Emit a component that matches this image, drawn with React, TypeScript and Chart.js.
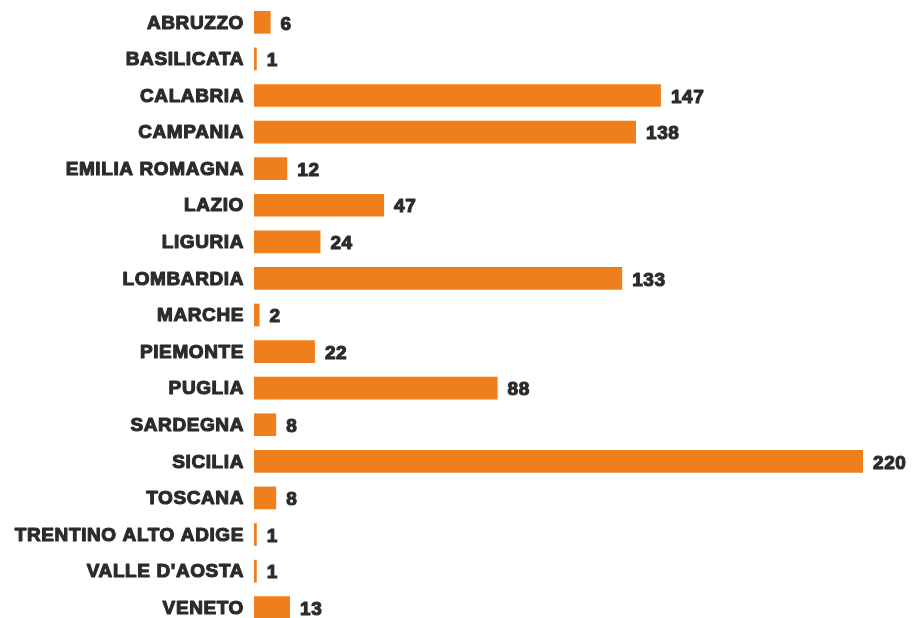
import React, { useEffect, useRef } from "react";
import { Chart, registerables } from "chart.js";

Chart.register(...registerables);

const categories = [
  "ABRUZZO",
  "BASILICATA",
  "CALABRIA",
  "CAMPANIA",
  "EMILIA ROMAGNA",
  "LAZIO",
  "LIGURIA",
  "LOMBARDIA",
  "MARCHE",
  "PIEMONTE",
  "PUGLIA",
  "SARDEGNA",
  "SICILIA",
  "TOSCANA",
  "TRENTINO ALTO ADIGE",
  "VALLE D'AOSTA",
  "VENETO",
];
const values = [6, 1, 147, 138, 12, 47, 24, 133, 2, 22, 88, 8, 220, 8, 1, 1, 13];

const FONT = "'Liberation Sans', Arial, sans-serif";
const TEXT = "#2b2b2b";
const BAR = "#EF7F1C";

function heavyText(ctx: any, s: string, x: number, y: number) {
  ctx.strokeText(s, x, y);
  ctx.fillText(s, x, y);
}

const textPlugin = {
  id: "textPlugin",
  afterDatasetsDraw(chart: any) {
    const ctx = chart.ctx;
    const meta = chart.getDatasetMeta(0);
    const yScale = chart.scales.y;
    ctx.save();
    ctx.font = `bold 19px ${FONT}`;
    (ctx as any).letterSpacing = "0.6px";
    ctx.fillStyle = TEXT;
    ctx.strokeStyle = TEXT;
    ctx.lineWidth = 1.1;
    ctx.lineJoin = "round";
    ctx.textBaseline = "middle";
    // category labels from the y axis
    ctx.textAlign = "right";
    categories.forEach((c, i) => {
      const y = yScale.getPixelForTick(i);
      heavyText(ctx, c, yScale.right - 10, y + 1);
    });
    // value labels
    ctx.textAlign = "left";
    meta.data.forEach((el: any, i: number) => {
      heavyText(ctx, String(values[i]), el.x + 10, el.y + 2);
    });
    ctx.restore();
  },
};

export default function App() {
  const ref = useRef<HTMLCanvasElement>(null);
  useEffect(() => {
    if (!ref.current) return;
    const chart = new Chart(ref.current, {
      type: "bar",
      data: {
        labels: categories,
        datasets: [
          {
            data: values,
            backgroundColor: BAR,
            barPercentage: 0.62,
            categoryPercentage: 1,
          },
        ],
      },
      options: {
        indexAxis: "y",
        animation: false,
        responsive: false,
        maintainAspectRatio: false,
        layout: { padding: { top: 4, bottom: 4, right: 52, left: 0 } },
        plugins: { legend: { display: false }, tooltip: { enabled: false } },
        scales: {
          x: { display: false, min: 0, max: 220 },
          y: {
            grid: { display: false, drawTicks: false },
            border: { display: false },
            ticks: { display: false, autoSkip: false },
            afterFit(scale: any) {
              scale.width = 254;
              scale.paddingTop = 0;
              scale.paddingBottom = 0;
            },
          },
        },
      },
      plugins: [textPlugin],
    });
    return () => chart.destroy();
  }, []);
  return (
    <div style={{ position: "absolute", left: 0, top: 0, width: 915, height: 630 }}>
      <canvas ref={ref} width={915} height={630} style={{ display: "block" }} />
    </div>
  );
}
